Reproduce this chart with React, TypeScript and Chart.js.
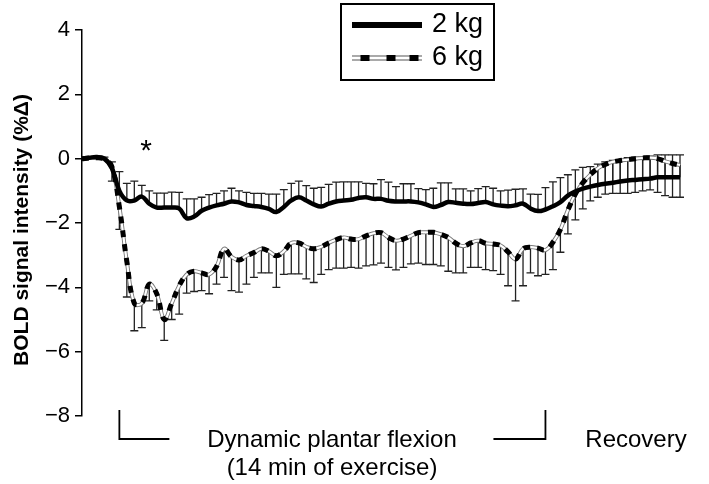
import React, { useEffect, useRef } from 'react';
import { Chart, registerables } from 'chart.js';

Chart.register(...registerables);

// Time points (15-s samples): baseline, 14 min exercise, recovery
const timePoints: string[] = Array.from({ length: 81 }, (_, i) => String(i));

const kg2Values: number[] = [
  0, 0.03, 0.05, 0, -0.3, -1.0, -1.3, -1.3, -1.18, -1.4,
  -1.52, -1.52, -1.52, -1.55, -1.85, -1.8, -1.62, -1.52, -1.45, -1.4,
  -1.33, -1.36, -1.44, -1.47, -1.5, -1.56, -1.66, -1.5, -1.3, -1.2,
  -1.3, -1.42, -1.49, -1.4, -1.33, -1.3, -1.28, -1.22, -1.2, -1.25,
  -1.25, -1.31, -1.33, -1.33, -1.33, -1.36, -1.42, -1.5, -1.44, -1.35,
  -1.37, -1.4, -1.41, -1.38, -1.35, -1.42, -1.46, -1.48, -1.45, -1.4,
  -1.55, -1.63, -1.58, -1.48, -1.35, -1.15, -1.02, -0.93, -0.87, -0.82,
  -0.78, -0.75, -0.71, -0.68, -0.66, -0.64, -0.62, -0.58, -0.58, -0.58,
  -0.58,
];

const kg2Error: number[] = [
  0, 0, 0, 0.05, 0.2, 0.6, 0.53, 0.6, 0.35, 0.4,
  0.45, 0.45, 0.48, 0.5, 0.6, 0.55, 0.42, 0.4, 0.37, 0.4,
  0.41, 0.36, 0.39, 0.39, 0.42, 0.46, 0.56, 0.54, 0.53, 0.5,
  0.46, 0.5, 0.6, 0.6, 0.6, 0.58, 0.56, 0.5, 0.43, 0.47,
  0.6, 0.58, 0.46, 0.55, 0.55, 0.43, 0.46, 0.58, 0.69, 0.6,
  0.43, 0.46, 0.41, 0.45, 0.48, 0.5, 0.46, 0.5, 0.5, 0.46,
  0.45, 0.52, 0.68, 0.76, 0.76, 0.65, 0.67, 0.66, 0.62, 0.65,
  0.68, 0.7, 0.68, 0.71, 0.71, 0.69, 0.7, 0.7, 0.7, 0.7,
  0.7,
];

const kg6Values: number[] = [
  0, 0.02, 0.03, -0.02, -0.25, -1.5, -3.2, -4.5, -4.5, -3.9,
  -4.2, -5.0, -4.5, -3.95, -3.6, -3.5, -3.55, -3.6, -3.35, -2.8,
  -3.05, -3.15, -3.02, -2.92, -2.8, -2.88, -3.02, -2.88, -2.62, -2.62,
  -2.74, -2.8, -2.74, -2.62, -2.52, -2.45, -2.5, -2.5, -2.4, -2.32,
  -2.3, -2.45, -2.55, -2.5, -2.4, -2.3, -2.29, -2.29, -2.35, -2.45,
  -2.63, -2.72, -2.62, -2.55, -2.63, -2.65, -2.7, -2.9, -3.12, -2.8,
  -2.75, -2.78, -2.84, -2.6, -2.2, -1.6, -1.1, -0.75, -0.5, -0.3,
  -0.18, -0.1, -0.06, -0.03, 0, 0.02, 0.03, 0, -0.08, -0.15,
  -0.2,
];

const kg6Error: number[] = [
  0, 0, 0, 0, -0.45, -0.7, -1.1, -0.85, -0.75, -0.52,
  -0.5, -0.65, -0.5, -0.88, -0.58, -0.63, -0.55, -0.6, -0.55, -0.89,
  -1.05, -1.0, -0.88, -0.77, -0.75, -0.67, -0.98, -0.72, -0.96, -0.96,
  -1.0, -1.05, -0.86, -0.83, -0.88, -0.95, -0.88, -0.9, -0.93, -0.98,
  -0.95, -0.93, -0.91, -0.88, -0.87, -0.95, -1.0, -1.0, -0.98, -1.05,
  -0.92, -0.83, -0.76, -0.83, -0.82, -0.83, -0.9, -1.05, -1.3, -1.15,
  -0.8, -0.86, -0.76, -0.85, -0.71, -0.74, -0.8, -0.81, -0.81, -0.9,
  -0.92, -0.98, -1.02, -1.05, -1.05, -1.02, -1.0, -1.05, -1.07, -1.05,
  -1.0,
];

const yTicks: number[] = [4, 2, 0, -2, -4, -6, -8];
const seriesNames: string[] = ['2 kg', '6 kg'];
const yTitle = 'BOLD signal intensity (%\u0394)';
const phaseLabels: string[] = ['Dynamic plantar flexion', '(14 min of exercise)', 'Recovery'];
const FONT = '"Liberation Sans", Arial, Helvetica, sans-serif';

const errorBarPlugin = {
  id: 'errorBars',
  beforeDatasetsDraw(chart: any) {
    const ctx = chart.ctx;
    const xs = chart.scales.x;
    const ys = chart.scales.y;
    const sets: [number[], number[]][] = [
      [kg2Values, kg2Error],
      [kg6Values, kg6Error],
    ];
    ctx.save();
    ctx.strokeStyle = '#222';
    ctx.lineWidth = 1.3;
    for (const [vals, errs] of sets) {
      for (let i = 0; i < vals.length; i++) {
        if (!errs[i]) continue;
        const x = xs.getPixelForValue(i);
        const y0 = ys.getPixelForValue(vals[i]);
        const y1 = ys.getPixelForValue(vals[i] + errs[i]);
        ctx.beginPath();
        ctx.moveTo(x, y0);
        ctx.lineTo(x, y1);
        ctx.moveTo(x - 4, y1);
        ctx.lineTo(x + 4, y1);
        ctx.stroke();
      }
    }
    ctx.restore();
  },
};

const decorPlugin = {
  id: 'decor',
  afterDraw(chart: any) {
    const ctx = chart.ctx;
    const xs = chart.scales.x;
    ctx.save();
    ctx.fillStyle = '#000';
    ctx.strokeStyle = '#000';

    // Y-axis title
    ctx.save();
    ctx.translate(22, 230);
    ctx.rotate(-Math.PI / 2);
    ctx.font = `bold 21px ${FONT}`;
    ctx.textAlign = 'center';
    ctx.textBaseline = 'middle';
    ctx.fillText(yTitle, 0, 0);
    ctx.restore();

    // Asterisk
    ctx.font = `30px ${FONT}`;
    ctx.textAlign = 'center';
    ctx.textBaseline = 'middle';
    ctx.fillText('*', 146, 152);

    // Phase bracket
    const xStart = xs.getPixelForValue(5);
    const xEnd = xs.getPixelForValue(62);
    ctx.lineWidth = 1.8;
    ctx.beginPath();
    ctx.moveTo(xStart, 410);
    ctx.lineTo(xStart, 439);
    ctx.lineTo(xStart + 50, 439);
    ctx.moveTo(xEnd - 52, 439);
    ctx.lineTo(xEnd, 439);
    ctx.lineTo(xEnd, 410);
    ctx.stroke();

    ctx.font = `24px ${FONT}`;
    ctx.textAlign = 'center';
    ctx.textBaseline = 'middle';
    ctx.fillText(phaseLabels[0], 332, 440);
    ctx.fillText(phaseLabels[1], 332, 468);
    ctx.fillText(phaseLabels[2], 636, 440);

    // Legend
    ctx.lineWidth = 2;
    ctx.strokeRect(341, 4, 153, 76);
    ctx.beginPath();
    ctx.lineWidth = 6;
    ctx.moveTo(352, 25);
    ctx.lineTo(422, 25);
    ctx.stroke();
    // 6 kg sample
    ctx.lineWidth = 5;
    ctx.strokeStyle = '#555';
    ctx.beginPath();
    ctx.moveTo(352, 58);
    ctx.lineTo(422, 58);
    ctx.stroke();
    ctx.lineWidth = 3;
    ctx.strokeStyle = '#fff';
    ctx.beginPath();
    ctx.moveTo(352, 58);
    ctx.lineTo(422, 58);
    ctx.stroke();
    ctx.fillStyle = '#000';
    for (const dx of [365, 391, 414]) {
      ctx.fillRect(dx - 4.5, 55, 9, 6);
    }
    ctx.font = `27px ${FONT}`;
    ctx.textAlign = 'left';
    ctx.textBaseline = 'middle';
    ctx.fillText(seriesNames[0], 432, 25);
    ctx.fillText(seriesNames[1], 432, 58);
    ctx.restore();
  },
};

export default function App() {
  const ref = useRef<HTMLCanvasElement>(null);
  useEffect(() => {
    document.body.style.margin = '0';
    const canvas = ref.current!;
    const chart = new Chart(canvas, {
      type: 'line',
      data: {
        labels: timePoints,
        datasets: [
          {
            label: seriesNames[0],
            data: kg2Values,
            borderColor: '#000',
            borderWidth: 4.5,
            pointRadius: 0,
            tension: 0.4,
            order: 0,
          },
          {
            label: seriesNames[1],
            data: kg6Values,
            borderColor: '#000',
            borderWidth: 5,
            borderDash: [7, 7],
            pointRadius: 0,
            tension: 0.4,
            order: 1,
          },
          {
            label: '6 kg core',
            data: kg6Values,
            borderColor: '#fff',
            borderWidth: 2.2,
            pointRadius: 0,
            tension: 0.4,
            order: 2,
          },
          {
            label: '6 kg outline',
            data: kg6Values,
            borderColor: '#777',
            borderWidth: 4,
            pointRadius: 0,
            tension: 0.4,
            order: 3,
          },
        ],
      },
      options: {
        responsive: false,
        animation: false,
        layout: { padding: { top: 30, bottom: 68, left: 0, right: 29 } },
        plugins: {
          legend: { display: false },
          tooltip: { enabled: false },
        },
        scales: {
          x: { type: 'category', display: false, offset: false },
          y: {
            min: -8,
            max: 4,
            afterFit: (s: any) => { s.width = 82; },
            afterBuildTicks: (s: any) => { s.ticks = yTicks.map((v) => ({ value: v })); },
            ticks: {
              color: '#000',
              padding: 5,
              font: { family: FONT, size: 22 },
              callback: (v: any) => (Number(v) < 0 ? '\u2212' + Math.abs(Number(v)) : String(v)),
            },
            grid: { drawOnChartArea: false, drawTicks: true, tickLength: 7, color: '#000', lineWidth: 1.5 },
            border: { display: true, color: '#000', width: 1.5 },
          },
        },
      },
      plugins: [errorBarPlugin, decorPlugin],
    });
    return () => chart.destroy();
  }, []);
  return (
    <div style={{ width: 709, height: 484 }}>
      <canvas ref={ref} width={709} height={484} style={{ display: 'block' }} />
    </div>
  );
}
